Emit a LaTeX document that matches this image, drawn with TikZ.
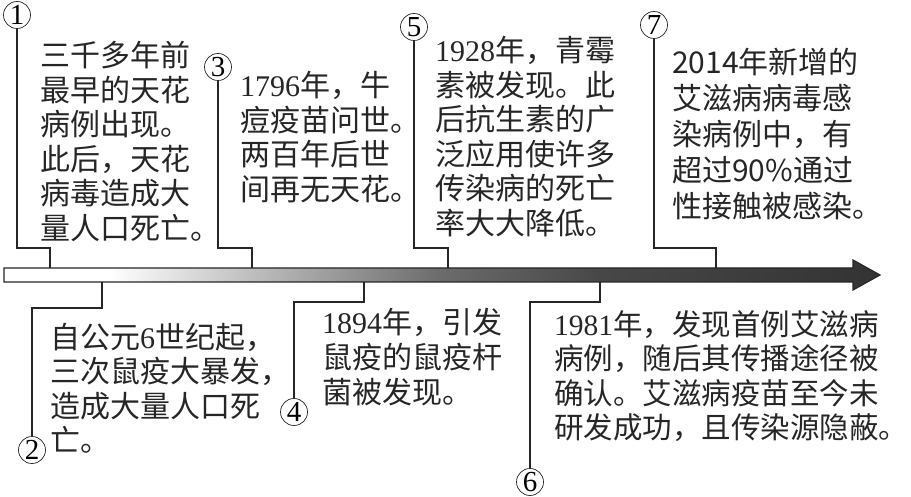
\documentclass[tikz,border=0pt]{standalone}
\usepackage{fontspec}
\setmainfont{Noto Sans CJK SC}
\newfontfamily\numfont{Liberation Serif}
\usetikzlibrary{positioning,calc}
\pgfdeclarehorizontalshading{barfade}{100bp}{color(0bp)=(white); color(25bp)=(white); color(31bp)=(white); color(39bp)=(black!25); color(50bp)=(black!58); color(59bp)=(black!72); color(75bp)=(black!80); color(100bp)=(black!80)}
\newcommand\yr[1]{{\numfont #1}}

\begin{document}
\begin{tikzpicture}[x=1pt,y=-1pt,
  circnum/.style={draw=black!85,circle,line width=0.7pt,minimum size=27pt,inner sep=0pt,font=\numfont\fontsize{29}{29}\selectfont},
  evtext/.style={anchor=north west,align=left,inner sep=0pt,text=black!85,font=\fontsize{30}{34.5}\selectfont},
  lead/.style={draw=black!85,line width=1.1pt}]
  \useasboundingbox (0,0) rectangle (911,497);
  % the time axis
  \shade[shading=barfade,draw=black!85,line width=1.2pt] (4,268) -- (853,268) -- (853,260) -- (880,275) -- (853,290) -- (853,282) -- (4,282) -- cycle;
  \coordinate (t1) at (50,268); \coordinate (t3) at (252,268);
  \coordinate (t5) at (448,268); \coordinate (t7) at (716,268);
  \coordinate (b2) at (102,282); \coordinate (b4) at (364,282); \coordinate (b6) at (600,282);
  % events above the axis
  \node[circnum] (c1) at (17,15) {1};
  \node[circnum] (c3) at (218,67) {3};
  \node[circnum] (c5) at (414,27) {5};
  \node[circnum] (c7) at (654,25) {7};
  \node[evtext] (e1) at (40,41) {三千多年前\\最早的天花\\病例出现。\\此后，天花\\病毒造成大\\量人口死亡。};
  \node[evtext] (e3) at (240,71) {\yr{1796}年，牛\\痘疫苗问世。\\两百年后世\\间再无天花。};
  \node[evtext] (e5) at (435,36) {\yr{1928}年，青霉\\素被发现。此\\后抗生素的广\\泛应用使许多\\传染病的死亡\\率大大降低。};
  \node[evtext,font=\fontsize{30}{36}\selectfont] (e7) at (672,48) {2014年新增的\\艾滋病病毒感\\染病例中，有\\超过90\%通过\\性接触被感染。};
  \draw[lead] (c1) |- ([yshift=20pt]t1) -- (t1);
  \draw[lead] (c3) |- ([yshift=20pt]t3) -- (t3);
  \draw[lead] (c5) |- ([yshift=20pt]t5) -- (t5);
  \draw[lead] (c7) |- ([yshift=20pt]t7) -- (t7);
  % events below the axis
  \node[circnum] (c2) at (32,450) {2};
  \node[circnum] (c4) at (294,412) {4};
  \node[circnum] (c6) at (530,482) {6};
  \node[evtext] (e2) at (50,323) {自公元\yr{6}世纪起，\\三次鼠疫大暴发，\\造成大量人口死\\亡。};
  \node[evtext,font=\fontsize{30}{35}\selectfont] (e4) at (322,308) {\yr{1894}年，引发\\鼠疫的鼠疫杆\\菌被发现。};
  \node[evtext,font=\fontsize{29.5}{34.5}\selectfont] (e6) at (554,310) {\yr{1981}年，发现首例艾滋病\\病例，随后其传播途径被\\确认。艾滋病疫苗至今未\\研发成功，且传染源隐蔽。};
  \draw[lead] (b2) -- ([yshift=-26pt]b2) -| (c2);
  \draw[lead] (b4) -- ([yshift=-20pt]b4) -| (c4);
  \draw[lead] (b6) -- ([yshift=-20pt]b6) -| (c6);
\end{tikzpicture}
\end{document}
